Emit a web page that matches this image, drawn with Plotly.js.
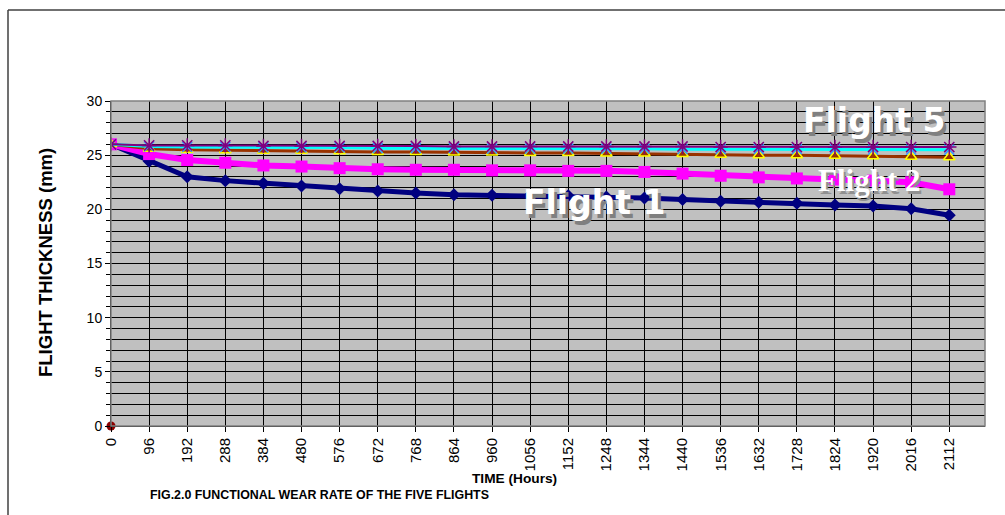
<!DOCTYPE html>
<html>
<head>
<meta charset="utf-8">
<script src="https://cdn.plot.ly/plotly-3.0.1.min.js"></script>
<style>
  html, body { margin: 0; padding: 0; background: #ffffff; }
  #chart { width: 1005px; height: 515px; }
</style>
</head>
<body>
<div id="chart"></div>
<script>
// Time in hours (categories on x axis)
const hours = [0, 96, 192, 288, 384, 480, 576, 672, 768, 864, 960, 1056, 1152, 1248, 1344, 1440, 1536, 1632, 1728, 1824, 1920, 2016, 2112];
const tickLabels = hours.map(String);

// Flight thickness (mm) per flight
const flight1 = [26.0, 24.45, 23.0, 22.65, 22.4, 22.15, 21.9, 21.7, 21.5, 21.35, 21.3, 21.3, 21.25, 21.15, 21.05, 20.9, 20.75, 20.65, 20.55, 20.4, 20.3, 20.05, 19.45];
const flight2 = [26.0, 25.1, 24.55, 24.3, 24.05, 23.95, 23.8, 23.7, 23.65, 23.65, 23.6, 23.6, 23.55, 23.55, 23.45, 23.3, 23.1, 22.95, 22.85, 22.75, 22.65, 22.5, 21.85];
const flight3 = [26.0, 25.6, 25.5, 25.45, 25.4, 25.4, 25.35, 25.3, 25.3, 25.25, 25.25, 25.2, 25.2, 25.15, 25.15, 25.1, 25.05, 25.0, 25.0, 24.95, 24.9, 24.85, 24.8];
const flight4 = [26.0, 25.8, 25.75, 25.75, 25.7, 25.7, 25.7, 25.65, 25.65, 25.65, 25.6, 25.6, 25.6, 25.6, 25.6, 25.55, 25.55, 25.55, 25.55, 25.55, 25.5, 25.5, 25.5];
const flight5 = [26.0, 25.9, 25.9, 25.9, 25.85, 25.85, 25.85, 25.85, 25.85, 25.8, 25.8, 25.8, 25.8, 25.8, 25.8, 25.8, 25.75, 25.75, 25.75, 25.75, 25.75, 25.75, 25.75];
const originX = [0];
const originY = [0];

const FONT = 'Arial, "Liberation Sans", sans-serif';

const traces = [
  { name: 'Flight 1', x: hours, y: flight1, mode: 'lines+markers',
    line: { color: '#000080', width: 5 },
    marker: { symbol: 'diamond', size: 10, color: '#000080' } },
  { name: 'Flight 2', x: hours, y: flight2, mode: 'lines+markers',
    line: { color: '#FF00FF', width: 6 },
    marker: { symbol: 'square', size: 12, color: '#FF00FF' } },
  { name: 'Flight 3', x: hours, y: flight3, mode: 'lines+markers',
    line: { color: '#993300', width: 3 },
    marker: { symbol: 'triangle-up', size: 10, color: '#993300', line: { color: '#FFFF00', width: 1.5 } } },
  { name: 'Flight 4', x: hours, y: flight4, mode: 'lines+markers',
    line: { color: '#00FFFF', width: 3 },
    marker: { symbol: 'x-thin-open', size: 10, color: '#3399FF', line: { color: '#3399FF', width: 1.5 } } },
  { name: 'Flight 5', x: hours, y: flight5, mode: 'lines+markers',
    line: { color: '#800080', width: 2 },
    marker: { symbol: 'asterisk-open', size: 12, color: '#800080', line: { color: '#800080', width: 1.5 } } },
  { name: 'origin', x: originX, y: originY, mode: 'markers', cliponaxis: false,
    marker: { symbol: 'circle', size: 9, color: '#8B0000' } }
];

// pixel helpers for paper coordinates (plot area: x 111..985, y 101..426)
const PL = 111, PR = 985, PT = 101, PB = 426;
const px = v => (v - PL) / (PR - PL);
const py = v => (PB - v) / (PB - PT);

const layout = {
  width: 1005, height: 515,
  margin: { l: PL, r: 1005 - PR, t: PT, b: 515 - PB, pad: 0 },
  paper_bgcolor: '#FFFFFF',
  plot_bgcolor: '#C0C0C0',
  showlegend: false,
  font: { family: FONT, color: '#000000', size: 12 },
  xaxis: {
    range: [0, 2202],
    tickmode: 'array', tickvals: hours, ticktext: tickLabels,
    tickangle: -90, ticks: 'outside', ticklen: 5, tickcolor: '#000000',
    tickfont: { family: FONT, size: 15, color: '#000000' },
    showgrid: true, gridcolor: '#000000', gridwidth: 1,
    zeroline: false, showline: true, linecolor: '#000000', linewidth: 1,
    mirror: false
  },
  yaxis: {
    range: [0, 30],
    tickmode: 'linear', tick0: 0, dtick: 5,
    ticks: 'outside', ticklen: 5, tickcolor: '#000000',
    tickfont: { family: FONT, size: 14, color: '#000000' },
    showgrid: true, gridcolor: '#000000', gridwidth: 1,
    minor: { dtick: 1, showgrid: true, gridcolor: '#000000', gridwidth: 1, ticks: 'outside', ticklen: 4, tickcolor: '#000000' },
    zeroline: false, showline: true, linecolor: '#000000', linewidth: 1
  },
  shapes: [
    // plot area border
    { type: 'rect', xref: 'paper', yref: 'paper', x0: 0, x1: 1, y0: 0, y1: 1,
      line: { color: '#808080', width: 1.5 }, fillcolor: 'rgba(0,0,0,0)', layer: 'above' },
    // outer chart frame (top and left edges)
    { type: 'line', xref: 'paper', yref: 'paper', x0: px(8), x1: px(1006), y0: py(10), y1: py(10),
      line: { color: '#404040', width: 1.5 } },
    { type: 'line', xref: 'paper', yref: 'paper', x0: px(8), x1: px(8), y0: py(10), y1: py(516),
      line: { color: '#404040', width: 1.5 } }
  ],
  annotations: [
    { text: '<b>FLIGHT THICKNESS (mm)</b>', xref: 'paper', yref: 'paper',
      x: px(45), y: py(263), xanchor: 'center', yanchor: 'middle', textangle: -90, showarrow: false,
      font: { family: FONT, size: 18.5, color: '#000000' } },
    { text: '<b>TIME (Hours)</b>', xref: 'paper', yref: 'paper',
      x: px(514), y: py(478), xanchor: 'center', yanchor: 'middle', showarrow: false,
      font: { family: FONT, size: 13.7, color: '#000000' } },
    { text: '<b>FIG.2.0 FUNCTIONAL WEAR RATE OF THE FIVE FLIGHTS</b>', xref: 'paper', yref: 'paper',
      x: px(148), y: py(495), xanchor: 'left', yanchor: 'middle', showarrow: false,
      font: { family: FONT, size: 12.4, color: '#000000' } },
    { text: '<b>Flight 5</b>', xref: 'paper', yref: 'paper', x: px(874), y: py(120),
      xanchor: 'center', yanchor: 'middle', showarrow: false,
      font: { family: '"DejaVu Sans", Arial, sans-serif', size: 33, color: '#FFFFFF', shadow: '3px 4px 0px #808080' } },
    { text: '<b>Flight 2</b>', xref: 'paper', yref: 'paper', x: px(869), y: py(180),
      xanchor: 'center', yanchor: 'middle', showarrow: false,
      font: { family: '"Liberation Serif", "Times New Roman", serif', size: 31, color: '#FFFFFF', shadow: '2px 3px 0px #909090' } },
    { text: '<b>Flight 1</b>', xref: 'paper', yref: 'paper', x: px(594), y: py(202),
      xanchor: 'center', yanchor: 'middle', showarrow: false,
      font: { family: '"DejaVu Sans", Arial, sans-serif', size: 33, color: '#FFFFFF', shadow: '3px 4px 0px #808080' } }
  ]
};

Plotly.newPlot('chart', traces, layout, { displayModeBar: false, staticPlot: true });
</script>
</body>
</html>
